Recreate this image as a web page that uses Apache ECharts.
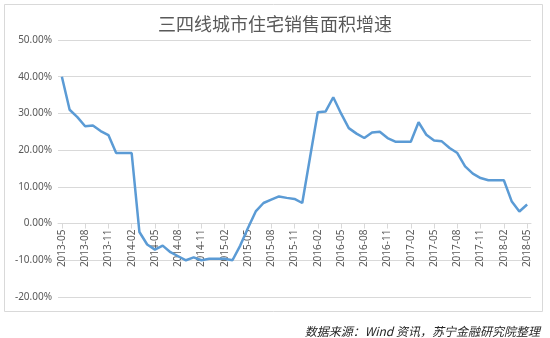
<!DOCTYPE html>
<html>
<head>
<meta charset="utf-8">
<script src="https://cdn.jsdelivr.net/npm/echarts@6/dist/echarts.min.js"></script>
<style>
html,body{margin:0;padding:0;background:#fff;}
#c{width:550px;height:338px;}
</style>
</head>
<body>
<div id="c"></div>
<script>
const titleText = '三四线城市住宅销售面积增速';
const sourceText = '数据来源：Wind 资讯，苏宁金融研究院整理';
const categories = [
 '2013-05','2013-06','2013-07','2013-08','2013-09','2013-10','2013-11','2013-12',
 '2014-01','2014-02','2014-03','2014-04','2014-05','2014-06','2014-07','2014-08','2014-09','2014-10','2014-11','2014-12',
 '2015-01','2015-02','2015-03','2015-04','2015-05','2015-06','2015-07','2015-08','2015-09','2015-10','2015-11','2015-12',
 '2016-01','2016-02','2016-03','2016-04','2016-05','2016-06','2016-07','2016-08','2016-09','2016-10','2016-11','2016-12',
 '2017-01','2017-02','2017-03','2017-04','2017-05','2017-06','2017-07','2017-08','2017-09','2017-10','2017-11','2017-12',
 '2018-01','2018-02','2018-03','2018-04','2018-05'
];
const growth = [
 40.0, 31.0, 29.0, 26.5, 26.7, 25.2, 24.1, 19.2,
 19.2, 19.2, -2.3, -5.7, -7.1, -6.0, -7.8, -8.9, -10.0, -9.2, -10.0, -9.6,
 -9.6, -9.6, -10.0, -6.0, -1.2, 3.3, 5.6, 6.5, 7.4, 7.0, 6.7, 5.6,
 18.0, 30.3, 30.5, 34.4, 30.0, 26.0, 24.5, 23.3, 24.8, 25.0, 23.3, 22.3,
 22.3, 22.3, 27.6, 24.2, 22.6, 22.4, 20.6, 19.2, 15.6, 13.6, 12.4, 11.8,
 11.8, 11.8, 6.1, 3.3, 5.2
];
const yMin = -20, yMax = 50, yStep = 10;

const gridTop = 40, gridBottom = 41, H = 338;
const plotH = H - gridTop - gridBottom;
// shift the category axis up from the grid bottom to the zero line
const zeroOffset = -plotH * (0 - yMin) / (yMax - yMin);

const chart = echarts.init(document.getElementById('c'), null, {renderer:'canvas'});
chart.setOption({
  animation:false,
  backgroundColor:'#fff',
  graphic:[{
    type:'rect', shape:{x:4.5,y:4.5,width:538,height:307},
    style:{fill:'none',stroke:'#d9d9d9',lineWidth:1}, silent:true
  }],
  title:[{
    text:titleText, left:'center', top:10,
    textStyle:{fontFamily:'Noto Sans CJK SC',fontSize:18,fontWeight:'normal',color:'#595959'}
  },{
    text:sourceText, right:5, top:320,
    textStyle:{fontFamily:'Noto Sans CJK SC',fontSize:12,fontWeight:'normal',fontStyle:'italic',color:'#262626'}
  }],
  grid:{left:58,right:19,top:gridTop,bottom:gridBottom,containLabel:false,outerBoundsMode:'none'},
  xAxis:{
    type:'category', data:categories, boundaryGap:true, position:'bottom', offset:zeroOffset,
    axisLine:{onZero:false,lineStyle:{color:'#d9d9d9',width:1}},
    axisTick:{show:true,alignWithLabel:true,interval:2,length:5,lineStyle:{color:'#d9d9d9'}},
    axisLabel:{interval:2,rotate:90,margin:6,fontFamily:'Noto Sans',fontSize:10,color:'#595959'},
    splitLine:{show:false}
  },
  yAxis:{
    type:'value', min:yMin, max:yMax, interval:yStep,
    axisLine:{show:false}, axisTick:{show:false},
    axisLabel:{margin:6,fontFamily:'Noto Sans',fontSize:10,color:'#595959',
      formatter:function(v){return v.toFixed(2)+'%';}},
    splitLine:{lineStyle:{color:'#d9d9d9',width:1}}
  },
  series:[{
    type:'line', data:growth, showSymbol:false, symbol:'none',
    lineStyle:{color:'#5b9bd5',width:2.5}, itemStyle:{color:'#5b9bd5'}
  }]
});
</script>
</body>
</html>
